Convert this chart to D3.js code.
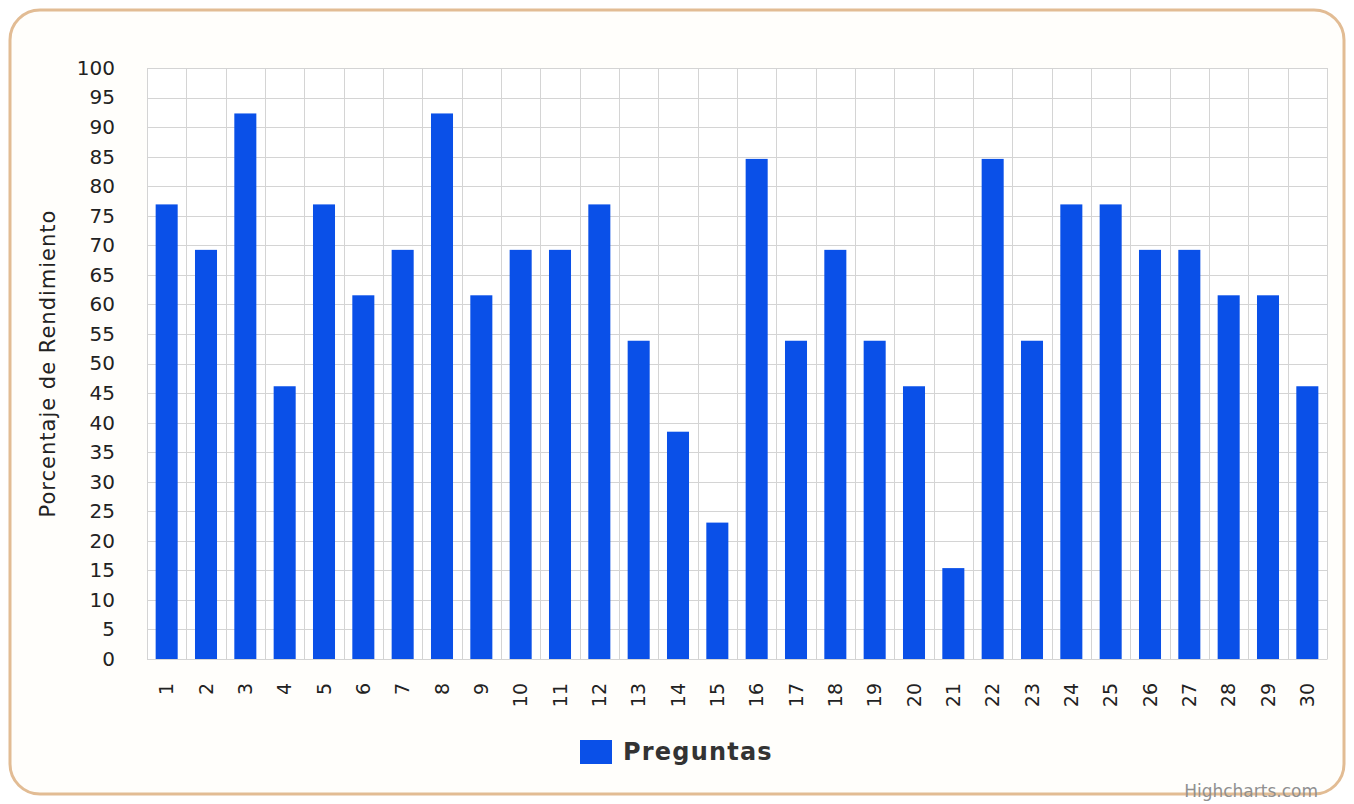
<!DOCTYPE html>
<html lang="es">
<head>
  <meta charset="UTF-8">
  <title>Porcentaje de Rendimiento</title>
  <style>
    body { margin: 0; background: #ffffff; }
    svg { display: block; font-family: 'DejaVu Sans', sans-serif; }
  </style>
</head>
<body>
  <svg id="svg" width="1354" height="804"></svg>

  <script src="https://d3js.org/d3.v7.min.js"></script>
  <script>
    // data
    const preguntas = d3.range(1, 31).map(String)
    const rendimiento = [
      76.92, 69.23, 92.31, 46.15, 76.92, 61.54, 69.23, 92.31, 61.54, 69.23,
      69.23, 76.92, 53.85, 38.46, 23.08, 84.62, 53.85, 69.23, 53.85, 46.15,
      15.38, 84.62, 53.85, 76.92, 76.92, 69.23, 69.23, 61.54, 61.54, 46.15
    ]
    const yTicks = d3.range(0, 101, 5)
    const seriesName = 'Preguntas'
    const yTitle = 'Porcentaje de Rendimiento'

    const margin = { top: 68, right: 27, bottom: 145, left: 147 }
    const W = 1354, H = 804
    const width = W - margin.left - margin.right
    const height = H - margin.top - margin.bottom

    const svg = d3.select('#svg')

    // outer frame
    svg.append('rect')
      .attr('x', 10).attr('y', 10)
      .attr('width', W - 20).attr('height', H - 20)
      .attr('rx', 30).attr('ry', 30)
      .attr('fill', '#fffefb')
      .attr('stroke', '#e2bc94')
      .attr('stroke-width', 3)

    const xscale = d3.scaleBand()
      .domain(preguntas)
      .range([margin.left, margin.left + width])
      .paddingInner(0.44)
      .paddingOuter(0.22)

    const yscale = d3.scaleLinear()
      .domain([0, 100])
      .range([margin.top + height, margin.top])

    // plot background
    svg.append('rect')
      .attr('x', margin.left).attr('y', margin.top)
      .attr('width', width).attr('height', height)
      .attr('fill', '#ffffff')

    // horizontal grid
    svg.append('g')
      .selectAll('line')
      .data(yTicks)
      .enter()
      .append('line')
      .attr('x1', margin.left).attr('x2', margin.left + width)
      .attr('y1', d => Math.round(yscale(d)) + 0.5)
      .attr('y2', d => Math.round(yscale(d)) + 0.5)
      .attr('stroke', '#d4d4d4')

    // vertical grid at category boundaries
    const step = xscale.step()
    const bounds = d3.range(0, preguntas.length + 1).map(i => margin.left + i * step)
    svg.append('g')
      .selectAll('line')
      .data(bounds)
      .enter()
      .append('line')
      .attr('x1', d => Math.round(d) + 0.5).attr('x2', d => Math.round(d) + 0.5)
      .attr('y1', margin.top).attr('y2', margin.top + height)
      .attr('stroke', '#d4d4d4')

    // bars
    svg.append('g')
      .selectAll('rect')
      .data(rendimiento)
      .enter()
      .append('rect')
      .attr('fill', '#0a50e8')
      .attr('x', (d, i) => xscale(preguntas[i]))
      .attr('y', d => yscale(d))
      .attr('width', xscale.bandwidth())
      .attr('height', d => yscale(0) - yscale(d))

    // y axis
    const leftAxis = d3.axisLeft(yscale).tickValues(yTicks).tickSize(0).tickPadding(32)
    const gy = svg.append('g')
      .attr('transform', `translate(${margin.left}, 0)`)
      .call(leftAxis)
    gy.select('.domain').remove()
    gy.selectAll('text')
      .attr('font-size', 20)
      .attr('font-family', 'DejaVu Sans')
      .attr('fill', '#222')

    // x axis
    const bottomAxis = d3.axisBottom(xscale).tickSize(0)
    const gx = svg.append('g')
      .attr('transform', `translate(0, ${margin.top + height})`)
      .call(bottomAxis)
    gx.select('.domain').attr('stroke', '#d4d4d4')
    gx.selectAll('text')
      .attr('font-size', 19)
      .attr('font-family', 'DejaVu Sans')
      .attr('fill', '#222')
      .attr('transform', 'rotate(-90)')
      .attr('text-anchor', 'end')
      .attr('dy', '0.35em')
      .attr('x', -24)
      .attr('y', 0)

    // y title
    svg.append('text')
      .attr('transform', `translate(55, ${margin.top + height / 2}) rotate(-90)`)
      .attr('text-anchor', 'middle')
      .attr('font-size', 21)
      .attr('letter-spacing', 1)
      .attr('fill', '#222')
      .text(yTitle)

    // legend
    const legend = svg.append('g').attr('transform', 'translate(580, 740)')
    legend.append('rect')
      .attr('width', 32).attr('height', 24)
      .attr('fill', '#0a50e8')
    legend.append('text')
      .attr('x', 43).attr('y', 20)
      .attr('font-size', 24)
      .attr('letter-spacing', 1.2)
      .attr('font-weight', 'bold')
      .attr('fill', '#333')
      .text(seriesName)

    // credits
    svg.append('text')
      .attr('x', 1318).attr('y', 797)
      .attr('text-anchor', 'end')
      .attr('font-size', 17)
      .attr('fill', '#909090')
      .text('Highcharts.com')
  </script>
</body>
</html>
